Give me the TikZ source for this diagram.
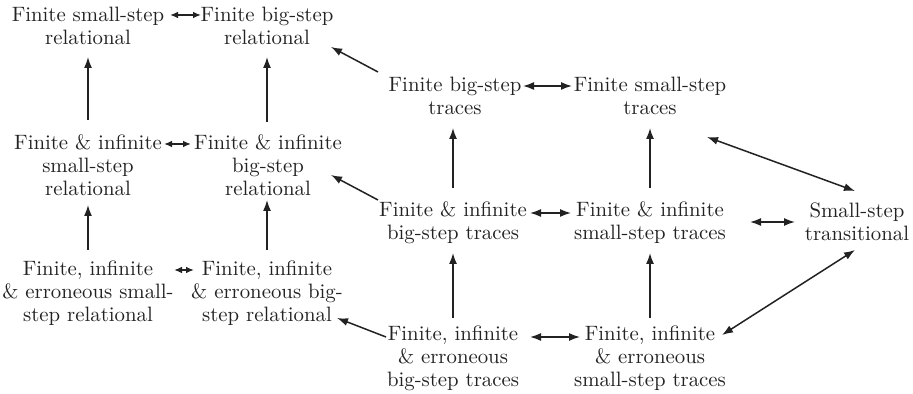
\documentclass[tikz,border=0pt]{standalone}
\usetikzlibrary{arrows.meta,calc}
\definecolor{ink}{HTML}{222222}
\begin{document}
\begin{tikzpicture}[x=0.5pt,y=-0.5pt,
  lbl/.style={inner sep=0pt,align=center,text=ink,font=\fontsize{10.4}{11.5}\selectfont},
  conn/.style={draw=ink,line width=0.75pt,-{Latex[length=5.5pt,width=4pt]}},
  dconn/.style={draw=ink,line width=0.75pt,{Latex[length=5.5pt,width=4pt]}-{Latex[length=5.5pt,width=4pt]}},
  sconn/.style={draw=ink,line width=0.75pt,{Latex[length=4pt,width=3.3pt]}-{Latex[length=4pt,width=3.3pt]}}]
\useasboundingbox (0,0) rectangle (913,394);
% nodes
\node[lbl] (fsr) at (88,26) {Finite small-step\\relational};
\node[lbl] (fbr) at (267,26) {Finite big-step\\relational};
\node[lbl] (fisr) at (88,165) {Finite \& infinite\\small-step\\relational};
\node[lbl] (fibr) at (268,165) {Finite \& infinite\\big-step\\relational};
\node[lbl] (fiesr) at (88,293) {Finite, infinite\\\& erroneous small-\\step relational};
\node[lbl] (fiebr) at (267,293) {Finite, infinite\\\& erroneous big-\\step relational};
\node[lbl] (fbt) at (455,96) {Finite big-step\\traces};
\node[lbl] (fst) at (650,96) {Finite small-step\\traces};
\node[lbl] (fibt) at (453,223) {Finite \& infinite\\big-step traces};
\node[lbl] (fist) at (650,223) {Finite \& infinite\\small-step traces};
\node[lbl] (fiebt) at (453,358) {Finite, infinite\\\& erroneous\\big-step traces};
\node[lbl] (fiest) at (650,358) {Finite, infinite\\\& erroneous\\small-step traces};
\node[lbl] (sst) at (857,222) {Small-step\\transitional};
% horizontal double arrows (left)
\draw[sconn] ($(fsr)+(82,-11)$) -- ($(fbr)+(-66,-11)$);
\draw[sconn] ($(fisr)+(76,-21)$) -- ($(fibr)+(-77,-21)$);
\draw[sconn] ($(fiesr)+(86,-23)$) -- ($(fiebr)+(-73,-23)$);
% vertical arrows (left)
\draw[conn] ($(fisr)+(0,-45)$) -- ($(fsr)+(0,31)$);
\draw[conn] ($(fiesr)+(0,-43)$) -- ($(fisr)+(0,40)$);
\draw[conn] ($(fibr)+(-1,-43)$) -- ($(fbr)+(0,31)$);
\draw[conn] ($(fiebr)+(0,-43)$) -- ($(fibr)+(-1,35)$);
% diagonal arrows
\draw[conn] ($(fbt)+(-77,-24)$) -- ($(fbr)+(64,21)$);
\draw[conn] ($(fibt)+(-75,-23)$) -- ($(fibr)+(63,10)$);
\draw[conn] ($(fiebt)+(-67,-21)$) -- ($(fiebr)+(70,25)$);
% vertical arrows (middle)
\draw[conn] ($(fibt)+(0,-35)$) -- ($(fbt)+(-2,32)$);
\draw[conn] ($(fist)+(0,-35)$) -- ($(fst)+(0,32)$);
\draw[conn] ($(fiebt)+(0,-40)$) -- ($(fibt)+(0,30)$);
\draw[conn] ($(fiest)+(0,-40)$) -- ($(fist)+(0,30)$);
% horizontal double arrows (middle)
\draw[dconn] ($(fbt)+(68,-10)$) -- ($(fst)+(-78,-10)$);
\draw[dconn] ($(fibt)+(77,-10)$) -- ($(fist)+(-79,-10)$);
\draw[dconn] ($(fiebt)+(77,-21)$) -- ($(fiest)+(-70,-21)$);
% right double arrows
\draw[dconn] ($(fst)+(57,41)$) -- ($(sst)+(-2,-31)$);
\draw[dconn] ($(fist)+(100,-1)$) -- ($(sst)+(-62,0)$);
\draw[dconn] ($(fiest)+(72,-23)$) -- ($(sst)+(-2,28)$);
\end{tikzpicture}
\end{document}
